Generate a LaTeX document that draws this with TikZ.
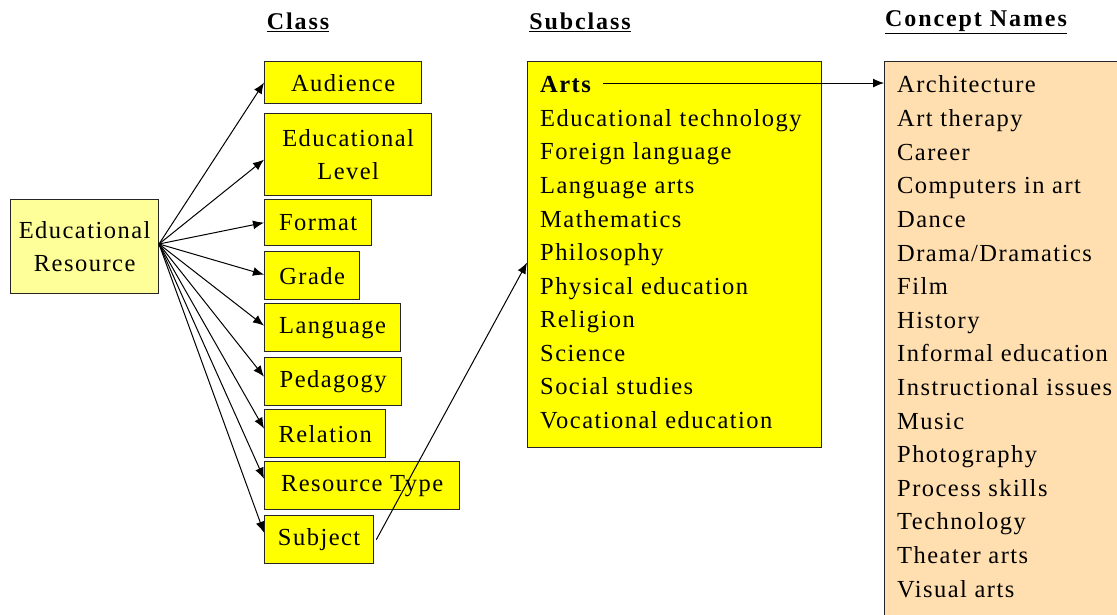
\documentclass[tikz,border=0pt]{standalone}
\usepackage{fontspec}
\setmainfont{Liberation Serif}[LetterSpace=6]
\newfontfamily\hdfont{Liberation Serif}[LetterSpace=8]
\usetikzlibrary{arrows.meta}
\definecolor{boxyellow}{HTML}{FFFF00}
\definecolor{paleyellow}{HTML}{FFFF99}
\definecolor{peach}{HTML}{FFDFB0}
\tikzset{
  bx/.style={draw=black!85, line width=1.3pt, fill=boxyellow, inner sep=0pt,
    anchor=north west, font=\fontsize{24.5}{33}\selectfont, align=center},
  txt/.style={anchor=base west, inner sep=0pt, font=\fontsize{24.5}{33}\selectfont},
  hd/.style={inner sep=0pt, font=\hdfont\bfseries\fontsize{24}{28}\selectfont},
  arr/.style={draw=black, line width=1pt, -{Latex[length=11pt,width=9pt]}}
}
\begin{document}
\begin{tikzpicture}[x=1pt,y=-1pt]
\useasboundingbox[fill=white] (0,0) rectangle (1117,615);
% headers
\node[hd] (hclass) at (298,22) {\underline{Class}};
\node[hd] (hsub) at (580,22) {\underline{Subclass}};
\node[hd] (hcon) at (976,22) {\underline{Concept Names}};
% root
\node[bx, fill=paleyellow, minimum width=148, minimum height=94] (er) at (10,199) {Educational\\Resource};
% classes
\node[bx, minimum width=157, minimum height=42] (aud) at (264,61) {Audience};
\node[bx, minimum width=167, minimum height=82] (edl) at (264,113) {Educational\\Level};
\node[bx, minimum width=107, minimum height=46] (fmt) at (264,199) {Format};
\node[bx, minimum width=95, minimum height=48] (grd) at (264,251) {Grade};
\node[bx, minimum width=136, minimum height=48] (lng) at (264,303) {Language};
\node[bx, minimum width=137, minimum height=48] (ped) at (264,357) {Pedagogy};
\node[bx, minimum width=121, minimum height=48] (rel) at (264,409) {Relation};
\node[bx, minimum width=195, minimum height=48] (rty) at (264,461) {Resource Type};
\node[bx, minimum width=109, minimum height=48] (sbj) at (264,515) {Subject};
% subclass box
\node[bx, minimum width=294, minimum height=386] (subbox) at (527,61) {};
\node[txt, font=\bfseries\fontsize{24.5}{33}\selectfont] (arts) at (540,93) {Arts};
\foreach [count=\i] \t in {Educational technology, Foreign language, Language arts,
  Mathematics, Philosophy, Physical education, Religion, Science, Social studies,
  Vocational education}
  \node[txt] (s\i) at (540,{93+33.5*\i}) {\t};
% concept box
\node[bx, fill=peach, minimum width=260, minimum height=600] (cbox) at (884,61) {};
\foreach [count=\i from 0] \t in {Architecture, Art therapy, Career, Computers in art,
  Dance, Drama/Dramatics, Film, History, Informal education, Instructional issues,
  Music, Photography, Process skills, Technology, Theater arts, Visual arts}
  \node[txt] (c\i) at (897,{93+33.6*\i}) {\t};
% connectors
\coordinate (src) at (159,244);
\draw[arr] (src) -- (aud.west);
\draw[arr] (src) -- ([yshift=-5pt]edl.west);
\draw[arr] (src) -- (fmt.west);
\draw[arr] (src) -- ([yshift=1pt]grd.west);
\draw[arr] (src) -- ([yshift=2pt]lng.west);
\draw[arr] (src) -- ([yshift=5pt]ped.west);
\draw[arr] (src) -- ([yshift=5pt]rel.west);
\draw[arr] (src) -- ([yshift=7pt]rty.west);
\draw[arr] (src) -- ([yshift=7pt]sbj.west);
\draw[arr] ([xshift=2pt]sbj.east) -- ([yshift=-8pt]subbox.west);
\draw[arr] ([xshift=12pt,yshift=2pt]arts.east) -- ([yshift=2pt]arts.east -| cbox.west);
\end{tikzpicture}
\end{document}
